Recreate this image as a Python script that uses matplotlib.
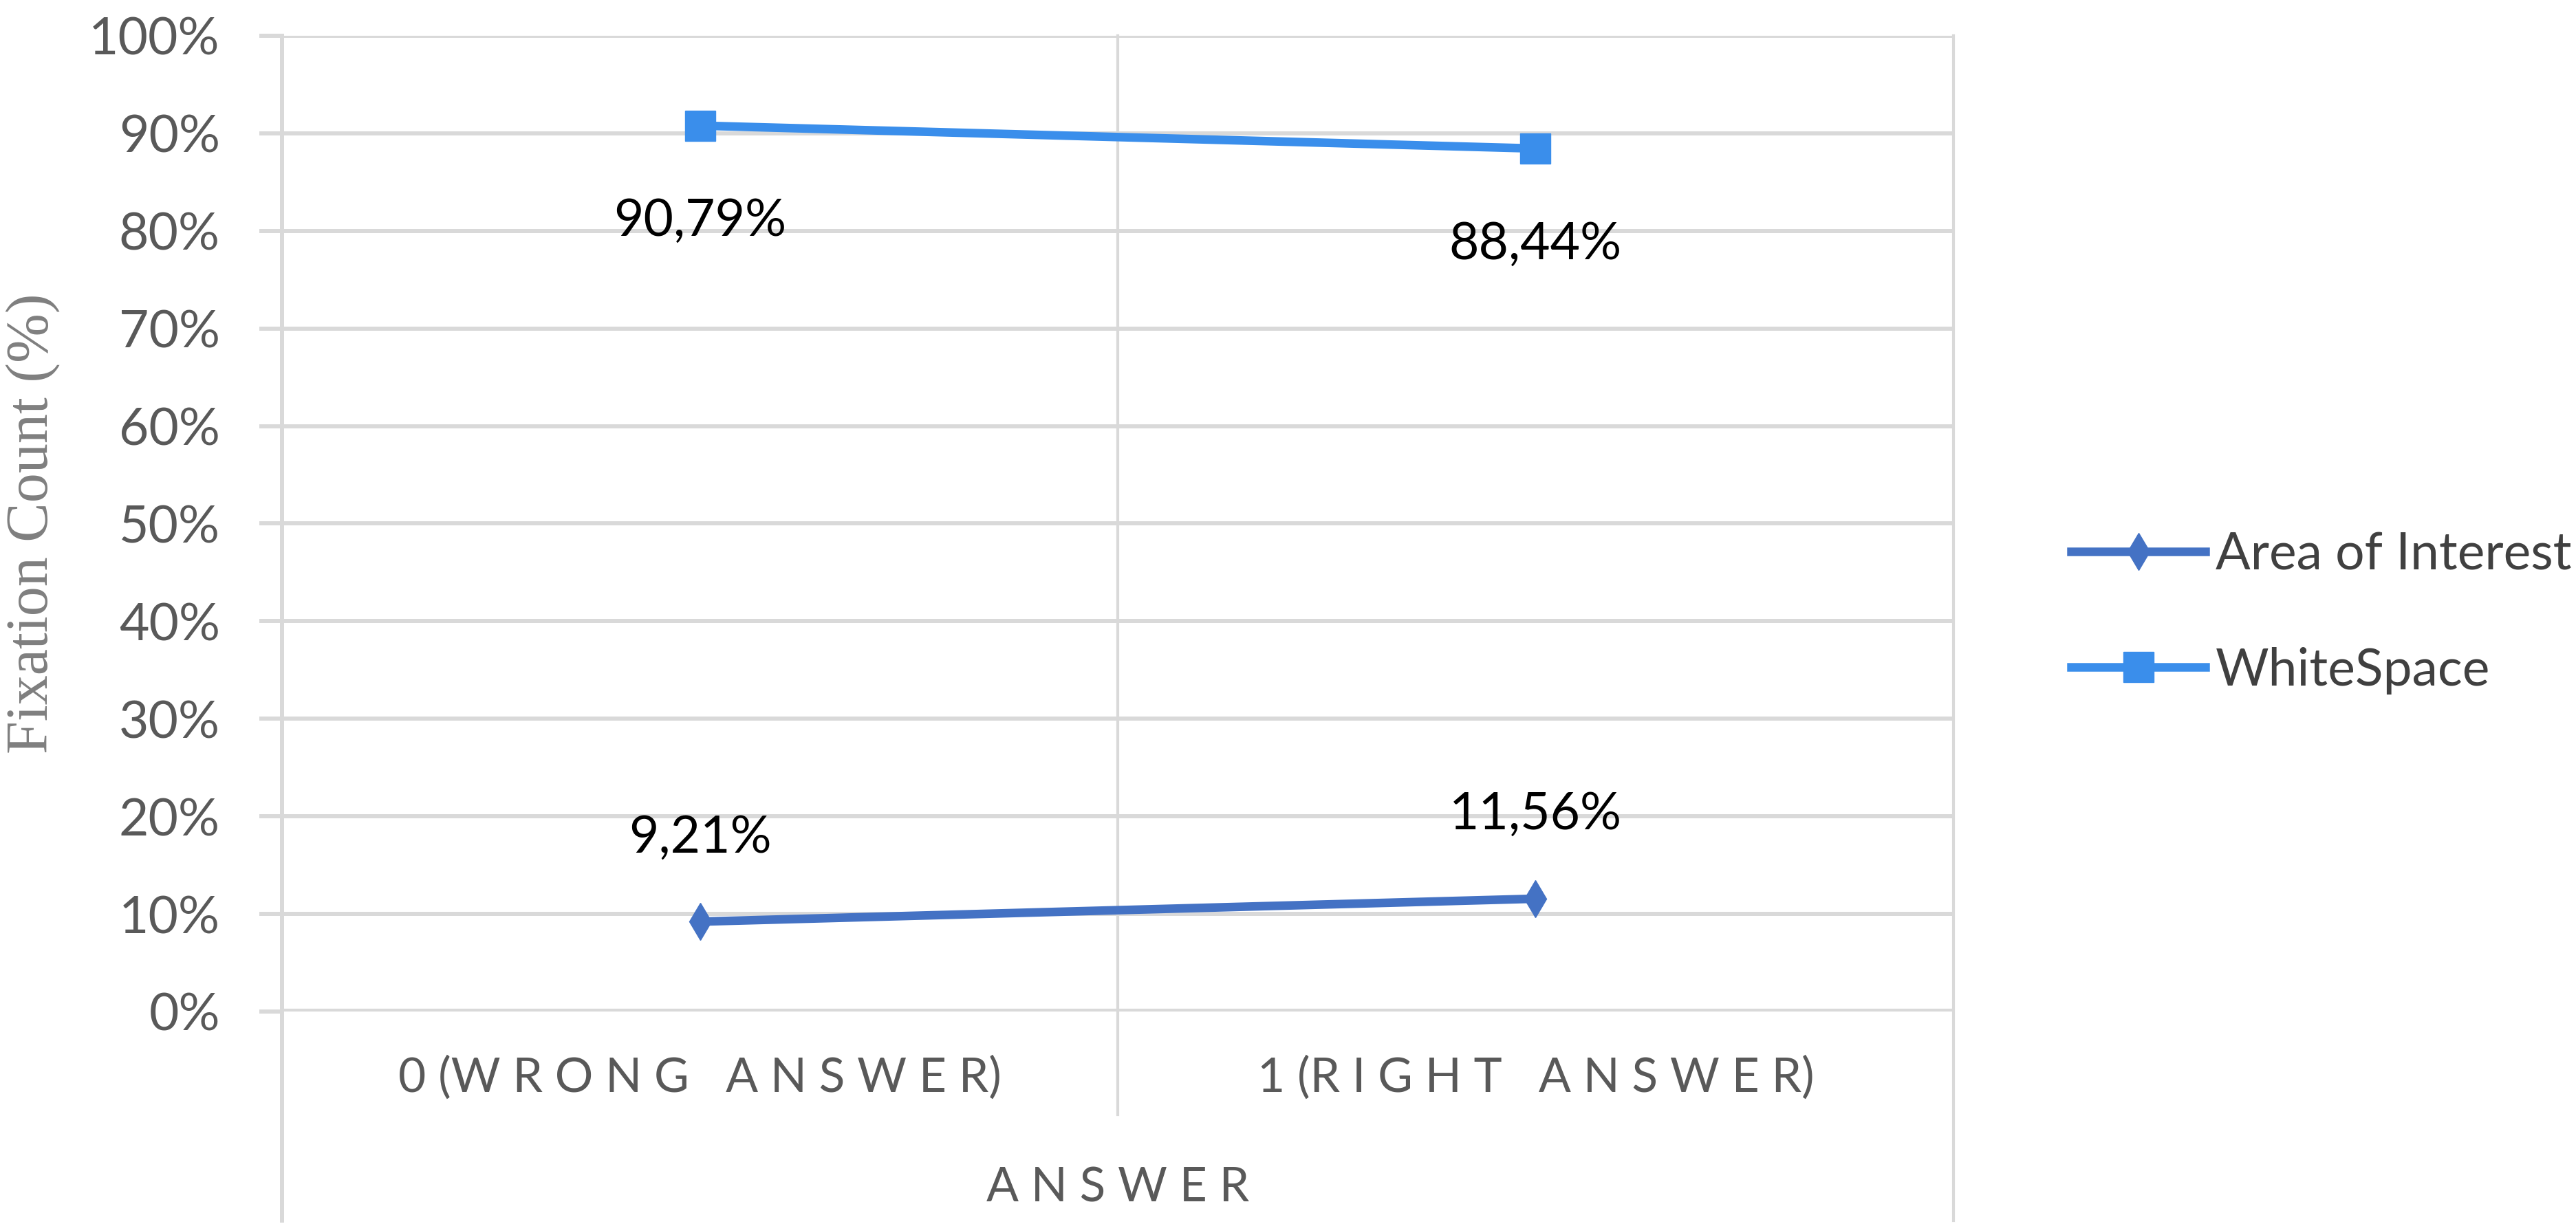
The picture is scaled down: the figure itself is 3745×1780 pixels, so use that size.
import matplotlib.pyplot as plt
from matplotlib.ticker import PercentFormatter

categories = ["0 (W R O N G   A N S W E R)", "1 (R I G H T   A N S W E R)"]
area_of_interest = [9.21, 11.56]
white_space = [90.79, 88.44]
aoi_labels = ["9,21%", "11,56%"]
ws_labels = ["90,79%", "88,44%"]
y_ticks = list(range(0, 101, 10))

grid_col = "#D9D9D9"
aoi_col = "#4472C4"
ws_col = "#3A8EEB"

plt.rcParams['font.family'] = ['Lato', 'DejaVu Sans']

fig = plt.figure(figsize=(37.45, 17.8), dpi=100)
ax = fig.add_axes([0.1095, 0.1736, 0.6488, 0.7972])

x = list(range(len(categories)))
ax.plot(x, area_of_interest, color=aoi_col, lw=9, marker='d', ms=27,
        label="Area of Interest", zorder=3)
ax.plot(x, white_space, color=ws_col, lw=9, marker='s', ms=32,
        label="WhiteSpace", zorder=3)

for xi, v, t in zip(x, white_space, ws_labels):
    ax.annotate(t, (xi, v), xytext=(0, -100), textcoords='offset points',
                ha='center', va='center', fontsize=54, color='black')
for xi, v, t in zip(x, area_of_interest, aoi_labels):
    ax.annotate(t, (xi, v), xytext=(0, 88), textcoords='offset points',
                ha='center', va='center', fontsize=54, color='black')

ax.set_xlim(-0.5, len(categories) - 0.5)
ax.set_ylim(0, 100)
ax.set_yticks(y_ticks)
ax.yaxis.set_major_formatter(PercentFormatter(decimals=0))
ax.yaxis.grid(True, color=grid_col, lw=4.3)
ax.set_axisbelow(True)

for s in ax.spines.values():
    s.set_visible(False)

# category separators reach down through the label area
ax.axvline(-0.5, ymin=-0.214, ymax=1, color=grid_col, lw=4.3, clip_on=False, zorder=0)
ax.axvline(0.5, ymin=-0.106, ymax=1, color=grid_col, lw=3, clip_on=False, zorder=0)
ax.axvline(1.5, ymin=-0.214, ymax=1, color=grid_col, lw=3, clip_on=False, zorder=0)
ax.axhline(0, color=grid_col, lw=6, zorder=1)

ax.tick_params(axis='y', length=24, width=4.3, color=grid_col, pad=41,
               labelsize=54, labelcolor='#595959')
ax.set_xticks(x)
ax.set_xticklabels(categories)
ax.tick_params(axis='x', length=0, pad=46, labelsize=50, labelcolor='#595959')

ax.set_xlabel("A N S W E R", fontsize=50, color='#595959', labelpad=70)
ax.set_ylabel("Fixation Count (%)", fontsize=62, color='#7F7F7F',
              family='Liberation Serif', va='center')
ax.yaxis.set_label_coords(-0.149, 0.5)

ax.legend(loc='upper left', bbox_to_anchor=(0.794, 0.587), bbox_transform=fig.transFigure,
          frameon=False, fontsize=54, handlelength=2.6, handletextpad=0.2,
          labelspacing=1.32, borderpad=0, labelcolor='#404040')

fig.savefig("out.png", dpi=100)
